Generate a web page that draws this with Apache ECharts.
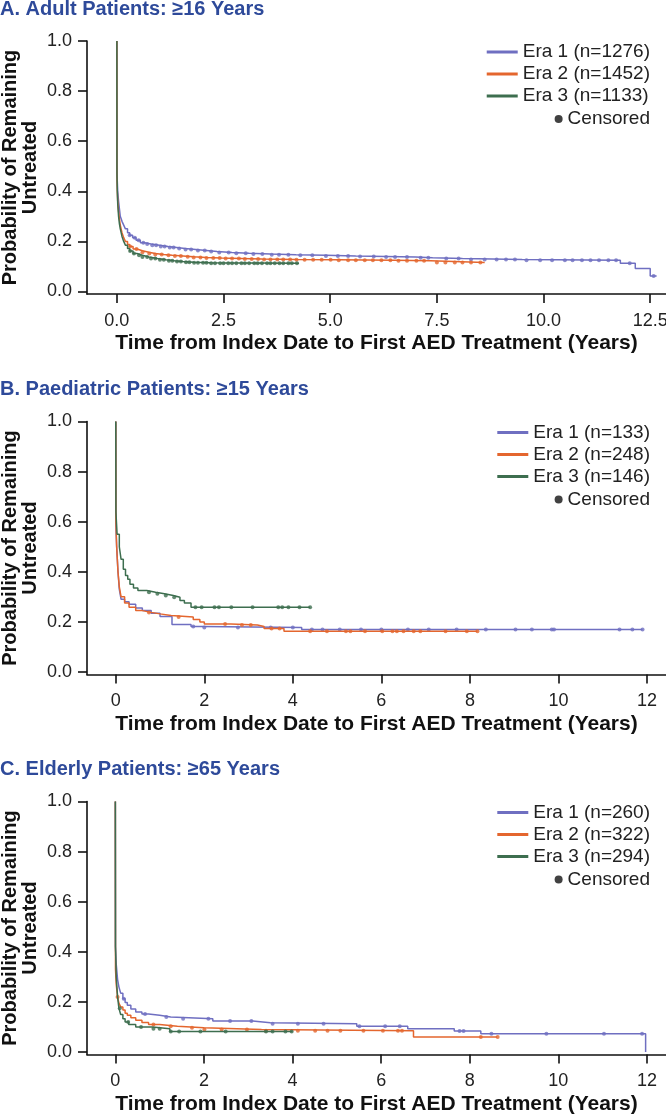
<!DOCTYPE html>
<html><head><meta charset="utf-8">
<script src="https://cdn.jsdelivr.net/npm/echarts@6/dist/echarts.min.js"></script>
<style>html,body{margin:0;padding:0;background:#fff}#c{width:666px;height:1115px}</style>
</head><body><div id="c"></div>
<script>
// ---------- Data ----------
const panelTitles = ['A. Adult Patients: \u226516 Years', 'B. Paediatric Patients: \u226515 Years', 'C. Elderly Patients: \u226565 Years'];
const eraNamesA = ['Era 1 (n=1276)', 'Era 2 (n=1452)', 'Era 3 (n=1133)'];
const eraNamesB = ['Era 1 (n=133)', 'Era 2 (n=248)', 'Era 3 (n=146)'];
const eraNamesC = ['Era 1 (n=260)', 'Era 2 (n=322)', 'Era 3 (n=294)'];
const censoredLabel = 'Censored';
const yTicks = [0, 0.2, 0.4, 0.6, 0.8, 1.0];
const xTicksA = [0, 2.5, 5, 7.5, 10, 12.5];
const xTicksBC = [0, 2, 4, 6, 8, 10, 12];
const xAxisTitle = 'Time from Index Date to First AED Treatment (Years)';
const yAxisTitle = 'Probability of Remaining\nUntreated';

// Panel A - step curves (time in years, survival)
const a1T = [0, 0.002, 0.01, 0.02, 0.04, 0.06, 0.08, 0.12, 0.16, 0.2, 0.25, 0.3, 0.37, 0.45, 0.55, 0.65, 0.8, 1.0, 1.2, 1.4, 1.6, 1.85, 2.1, 2.35, 2.7, 3.1, 3.6, 4.2, 4.9, 5.6, 6.3, 7.0, 7.4, 8.1, 9.5, 11.8, 12.15, 12.5, 12.65];
const a1S = [1.0, 0.5, 0.44, 0.4, 0.36, 0.33, 0.3, 0.28, 0.265, 0.25, 0.235, 0.225, 0.215, 0.205, 0.195, 0.19, 0.185, 0.18, 0.176, 0.172, 0.168, 0.164, 0.16, 0.156, 0.153, 0.15, 0.147, 0.145, 0.142, 0.14, 0.138, 0.135, 0.132, 0.128, 0.125, 0.113, 0.092, 0.062, 0.062];
const a2T = [0, 0.002, 0.01, 0.02, 0.04, 0.06, 0.08, 0.12, 0.16, 0.2, 0.25, 0.3, 0.38, 0.47, 0.6, 0.75, 0.9, 1.1, 1.3, 1.55, 1.8, 2.1, 2.45, 2.9, 3.4, 4.2, 5.2, 6.5, 7.35, 8.62];
const a2S = [1.0, 0.46, 0.4, 0.36, 0.32, 0.29, 0.265, 0.235, 0.215, 0.2, 0.188, 0.18, 0.17, 0.163, 0.157, 0.152, 0.148, 0.145, 0.142, 0.139, 0.136, 0.134, 0.132, 0.13, 0.128, 0.127, 0.125, 0.123, 0.116, 0.116];
const a3T = [0, 0.002, 0.01, 0.02, 0.04, 0.06, 0.08, 0.12, 0.16, 0.2, 0.25, 0.3, 0.38, 0.47, 0.6, 0.75, 0.95, 1.15, 1.35, 1.55, 1.8, 2.2, 4.27];
const a3S = [1.0, 0.47, 0.4, 0.35, 0.3, 0.27, 0.25, 0.22, 0.2, 0.185, 0.172, 0.162, 0.152, 0.145, 0.138, 0.132, 0.127, 0.123, 0.12, 0.117, 0.115, 0.113, 0.113];
const a1C = [0.3, 0.42, 0.51, 0.62, 0.71, 0.83, 0.92, 1.03, 1.12, 1.24, 1.33, 1.46, 1.61, 1.74, 1.9, 2.06, 2.21, 2.4, 2.62, 2.8, 3.02, 3.2, 3.41, 3.63, 3.8, 4.02, 4.3, 4.58, 4.9, 5.18, 5.42, 5.7, 6.02, 6.31, 6.52, 6.8, 7.12, 7.3, 7.72, 8.01, 8.3, 8.62, 8.9, 9.12, 9.33, 9.6, 9.92, 10.2, 10.5, 10.68, 10.9, 11.1, 11.3, 11.52, 11.7, 12.02, 12.58];
const a2C = [0.31, 0.46, 0.6, 0.76, 0.9, 1.05, 1.21, 1.36, 1.5, 1.66, 1.8, 1.96, 2.1, 2.26, 2.41, 2.55, 2.7, 2.86, 3.0, 3.16, 3.31, 3.45, 3.6, 3.76, 3.9, 4.06, 4.21, 4.4, 4.6, 4.8, 5.01, 5.2, 5.42, 5.6, 5.81, 6.0, 6.2, 6.41, 6.6, 6.8, 7.02, 7.2, 7.5, 7.7, 7.92, 8.1, 8.3, 8.52];
const a3C = [0.31, 0.4, 0.52, 0.6, 0.71, 0.8, 0.9, 1.01, 1.1, 1.22, 1.3, 1.41, 1.5, 1.62, 1.7, 1.81, 1.9, 2.02, 2.1, 2.21, 2.3, 2.42, 2.5, 2.61, 2.7, 2.8, 2.92, 3.0, 3.1, 3.22, 3.3, 3.4, 3.52, 3.6, 3.7, 3.81, 3.9, 4.02, 4.1, 4.22];

// Panel B
const b1T = [0, 0.003, 0.02, 0.05, 0.08, 0.12, 0.2, 0.3, 0.45, 0.6, 0.8, 1.0, 1.27, 1.7, 1.95, 4.2, 11.9];
const b1S = [1.0, 0.58, 0.5, 0.4, 0.33, 0.29, 0.28, 0.27, 0.255, 0.245, 0.235, 0.222, 0.19, 0.182, 0.178, 0.17, 0.17];
const b2T = [0, 0.003, 0.02, 0.05, 0.08, 0.12, 0.2, 0.3, 0.45, 0.6, 0.8, 1.0, 1.25, 1.75, 1.9, 2.0, 2.6, 3.2, 3.35, 3.8, 8.17];
const b2S = [1.0, 0.6, 0.5, 0.4, 0.34, 0.3, 0.275, 0.258, 0.245, 0.238, 0.232, 0.226, 0.22, 0.21, 0.2, 0.192, 0.188, 0.182, 0.174, 0.163, 0.163];
const b3T = [0, 0.003, 0.03, 0.08, 0.12, 0.17, 0.22, 0.27, 0.32, 0.4, 0.5, 0.7, 0.9, 1.1, 1.3, 1.45, 1.55, 1.7, 4.39];
const b3S = [1.0, 0.64, 0.55, 0.5, 0.45, 0.41, 0.385, 0.37, 0.35, 0.335, 0.325, 0.318, 0.312, 0.305, 0.298, 0.285, 0.275, 0.258, 0.258];
const b1C = [1.75, 2.0, 2.76, 3.5, 4.0, 4.43, 4.67, 5.06, 5.54, 6.0, 6.6, 7.07, 7.7, 8.36, 9.03, 9.4, 9.85, 9.9, 11.38, 11.67, 11.9];
const b2C = [0.75, 1.42, 2.47, 2.85, 3.05, 3.52, 3.7, 4.39, 4.77, 5.2, 5.3, 5.63, 6.02, 6.25, 6.35, 6.5, 6.73, 6.88, 7.45, 7.93, 8.17];
const b3C = [0.75, 0.94, 1.13, 1.32, 1.8, 1.94, 2.23, 2.33, 2.61, 3.09, 3.67, 3.76, 3.9, 4.15, 4.39];

// Panel C
const c1T = [0, 0.003, 0.02, 0.05, 0.08, 0.12, 0.17, 0.22, 0.27, 0.35, 0.46, 0.6, 0.75, 1.0, 1.25, 2.2, 3.1, 3.5, 5.45, 6.6, 7.65, 8.25, 11.97];
const c1S = [1.0, 0.42, 0.35, 0.29, 0.26, 0.235, 0.213, 0.198, 0.187, 0.172, 0.16, 0.152, 0.147, 0.14, 0.133, 0.124, 0.117, 0.113, 0.103, 0.093, 0.084, 0.073, 0.0];
const c2T = [0, 0.003, 0.02, 0.05, 0.08, 0.12, 0.17, 0.22, 0.27, 0.35, 0.46, 0.6, 0.75, 1.0, 1.4, 2.0, 3.3, 6.73, 8.62];
const c2S = [1.0, 0.33, 0.27, 0.22, 0.195, 0.18, 0.168, 0.155, 0.147, 0.137, 0.127, 0.118, 0.11, 0.103, 0.097, 0.09, 0.085, 0.06, 0.06];
const c3T = [0, 0.003, 0.02, 0.05, 0.08, 0.12, 0.17, 0.22, 0.3, 0.46, 0.84, 1.23, 4.0];
const c3S = [1.0, 0.42, 0.3, 0.22, 0.175, 0.15, 0.133, 0.12, 0.11, 0.1, 0.093, 0.082, 0.082];
const c1C = [0.19, 0.67, 1.15, 1.53, 2.1, 2.59, 3.07, 3.55, 4.12, 4.7, 5.51, 6.09, 6.42, 7.77, 7.86, 8.49, 9.73, 11.03, 11.89];
const c2C = [0.05, 0.86, 1.25, 1.73, 2.01, 2.4, 2.97, 3.4, 4.12, 4.51, 4.79, 5.08, 5.6, 6.04, 6.38, 6.47, 8.25, 8.63];
const c3C = [0.1, 0.29, 0.58, 0.86, 1.0, 1.25, 1.44, 1.92, 2.49, 3.4, 3.55, 3.84, 3.98];

// ---------- Build ----------
const colors = ['#6F6FC1', '#E4662E', '#3D6E4F'];
const FONT = '"Liberation Sans", Arial, Helvetica, sans-serif';
const panels = [
  {names: eraNamesA, T: [a1T, a2T, a3T], S: [a1S, a2S, a3S], C: [a1C, a2C, a3C], xTicks: xTicksA, xMin: -0.7, xMax: 12.87, dec: 1},
  {names: eraNamesB, T: [b1T, b2T, b3T], S: [b1S, b2S, b3S], C: [b1C, b2C, b3C], xTicks: xTicksBC, xMin: -0.65, xMax: 12.43, dec: 0},
  {names: eraNamesC, T: [c1T, c2T, c3T], S: [c1S, c2S, c3S], C: [c1C, c2C, c3C], xTicks: xTicksBC, xMin: -0.64, xMax: 12.43, dec: 0}
];
const panelOffset = [0, 380.5, 760.5];

function stepAt(t, ts, ss) {
  let v = ss[0];
  for (let i = 0; i < ts.length; i++) { if (ts[i] <= t) v = ss[i]; else break; }
  return v;
}

const option = {
  animation: false,
  backgroundColor: '#fff',
  textStyle: {fontFamily: FONT},
  title: [], grid: [], xAxis: [], yAxis: [], legend: [], series: []
};

panels.forEach((p, k) => {
  const off = panelOffset[k];
  option.title.push({text: panelTitles[k], left: 0, top: off - 1, padding: 0,
    textStyle: {fontFamily: FONT, fontSize: 20, fontWeight: 'bold', color: '#2E4A9A'}});
  option.grid.push({left: 87, right: 0, top: off + 41, height: 253, containLabel: false, outerBoundsMode: 'none'});
  option.xAxis.push({
    type: 'value', gridIndex: k, min: p.xMin, max: p.xMax,
    axisLine: {onZero: false, lineStyle: {color: '#111', width: 1.6}},
    axisTick: {show: true, length: 9, lineStyle: {color: '#111', width: 1.6}, customValues: p.xTicks},
    axisLabel: {customValues: p.xTicks, margin: 18, fontSize: 18, color: '#222', fontFamily: FONT,
      formatter: v => v.toFixed(p.dec)},
    splitLine: {show: false},
    name: xAxisTitle, nameLocation: 'middle', nameGap: 39, nameMoveOverlap: false,
    nameTextStyle: {fontSize: 21, fontWeight: 'bold', color: '#111', fontFamily: FONT}
  });
  option.yAxis.push({
    type: 'value', gridIndex: k, min: -0.01, max: 1.0,
    axisLine: {show: true, onZero: false, lineStyle: {color: '#111', width: 1.6}},
    axisTick: {show: true, length: 9, lineStyle: {color: '#111', width: 1.6}, customValues: yTicks},
    axisLabel: {customValues: yTicks, margin: 15, fontSize: 18, color: '#222', fontFamily: FONT,
      formatter: v => v.toFixed(1)},
    splitLine: {show: false},
    name: yAxisTitle, nameLocation: 'middle', nameGap: 47, nameMoveOverlap: false,
    nameTextStyle: {fontSize: 20, fontWeight: 'bold', color: '#111', lineHeight: 20, fontFamily: FONT}
  });
  option.legend.push({
    orient: 'vertical', right: 16, top: off + 42, padding: 0, itemGap: 2,
    icon: 'rect', itemWidth: 31, itemHeight: 3, selectedMode: false,
    data: p.names,
    textStyle: {fontSize: 19, color: '#222', lineHeight: 20, fontFamily: FONT}
  });
  option.legend.push({
    orient: 'vertical', right: 16, top: off + 109, padding: 0,
    icon: 'circle', itemWidth: 8, itemHeight: 8, selectedMode: false,
    data: [censoredLabel],
    textStyle: {fontSize: 19, color: '#222', lineHeight: 20, fontFamily: FONT}
  });
  for (let e = 0; e < 3; e++) {
    const ts = p.T[e], ss = p.S[e];
    option.series.push({
      name: p.names[e], type: 'line', step: 'end', xAxisIndex: k, yAxisIndex: k,
      data: ts.map((t, i) => [t, ss[i]]), showSymbol: false, symbol: 'none',
      color: colors[e], lineStyle: {color: colors[e], width: 1.5}, z: 2 + e
    });
    option.series.push({
      name: 'cens' + k + e, type: 'scatter', xAxisIndex: k, yAxisIndex: k,
      data: p.C[e].map(c => [c, stepAt(c, ts, ss)]), symbol: 'circle', symbolSize: 4,
      itemStyle: {color: colors[e]}, z: 2 + e
    });
  }
});
option.series.push({name: censoredLabel, type: 'scatter', xAxisIndex: 0, yAxisIndex: 0, data: [], itemStyle: {color: '#111'}});

const chart = echarts.init(document.getElementById('c'), null, {renderer: 'canvas'});
chart.setOption(option);
</script>
</body></html>
